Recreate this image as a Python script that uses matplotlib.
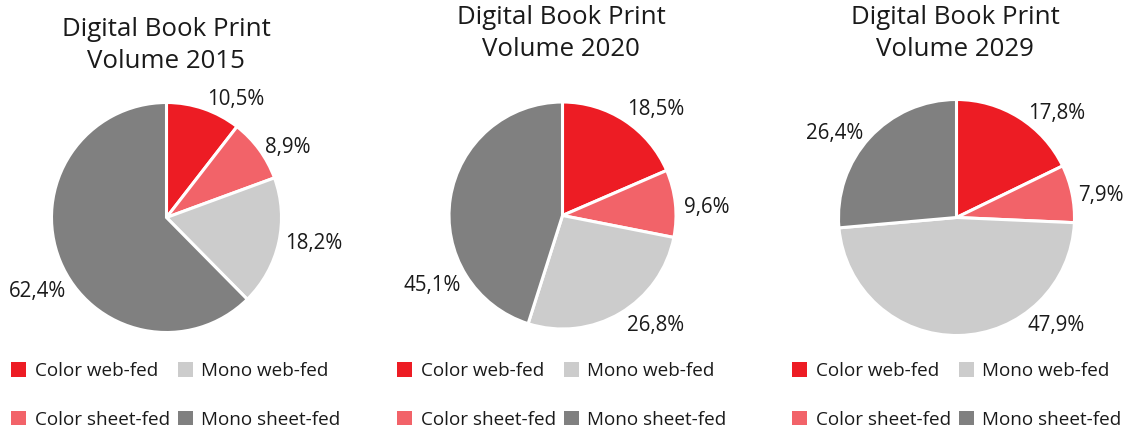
import matplotlib
matplotlib.use("Agg")
import matplotlib.pyplot as plt
from matplotlib.patches import Patch
from matplotlib.legend import Legend

plt.rcParams['font.family'] = ['Open Sans', 'DejaVu Sans']

# ---- data ----
categories = ["Color web-fed", "Color sheet-fed", "Mono web-fed", "Mono sheet-fed"]
years = ["2015", "2020", "2029"]
values_2015 = [10.5, 8.9, 18.2, 62.4]
values_2020 = [18.5, 9.6, 26.8, 45.1]
values_2029 = [17.8, 7.9, 47.9, 26.4]
colors = ["#ED1C24", "#F26369", "#CCCCCC", "#808080"]

all_values = [values_2015, values_2020, values_2029]

# ---- layout (figure pixels, y from top) ----
W, H = 1128, 432
centers = [(166.5, 217.5), (562.5, 215.5), (956.5, 217.5)]
radii = [115, 113.5, 118]
label_pos = [
    [(236, 100), (288, 147), (314, 243), (38, 292)],
    [(656, 110), (707, 207), (656, 325), (432, 285)],
    [(1057, 113), (1101, 195), (1056, 325), (835, 133)],
]
title_x = [166, 561, 955]
title_y = [30, 18, 18]
legend_x = [11, 397, 792]

fig = plt.figure(figsize=(W / 100, H / 100), dpi=100)
ax = fig.add_axes([0, 0, 1, 1])

for i, vals in enumerate(all_values):
    cx, cy = centers[i]
    ax.pie(vals, colors=colors, startangle=90, counterclock=False,
           center=(cx, H - cy), radius=radii[i], frame=True,
           wedgeprops=dict(edgecolor='white', linewidth=2.2))
    for v, (lx, ly) in zip(vals, label_pos[i]):
        ax.text(lx, H - ly, f"{v:.1f}%".replace('.', ','), ha='center', va='center',
                fontsize=14.8, color='#1a1a1a')
    ax.text(title_x[i], H - title_y[i], "Digital Book Print", ha='center', va='center',
            fontsize=18.6, color='#1a1a1a')
    ax.text(title_x[i], H - title_y[i] - 32, f"Volume {years[i]}", ha='center', va='center',
            fontsize=18.6, color='#1a1a1a')

ax.set_xlim(0, W)
ax.set_ylim(0, H)
ax.set_aspect('equal')
ax.axis('off')

handles = [Patch(facecolor=c, edgecolor='none') for c in colors]
for i in range(3):
    leg = Legend(ax, handles, categories, ncol=2, loc='upper left',
                 bbox_to_anchor=(legend_x[i], H - 362), bbox_transform=ax.transData,
                 frameon=False, fontsize=13.6, handlelength=0.8, handleheight=0.8,
                 handletextpad=0.45, labelspacing=1.62, columnspacing=0.42,
                 borderpad=0, borderaxespad=0)
    for t in leg.get_texts():
        t.set_color('#1a1a1a')
    ax.add_artist(leg)

fig.savefig("out.png", dpi=100, facecolor='white')
